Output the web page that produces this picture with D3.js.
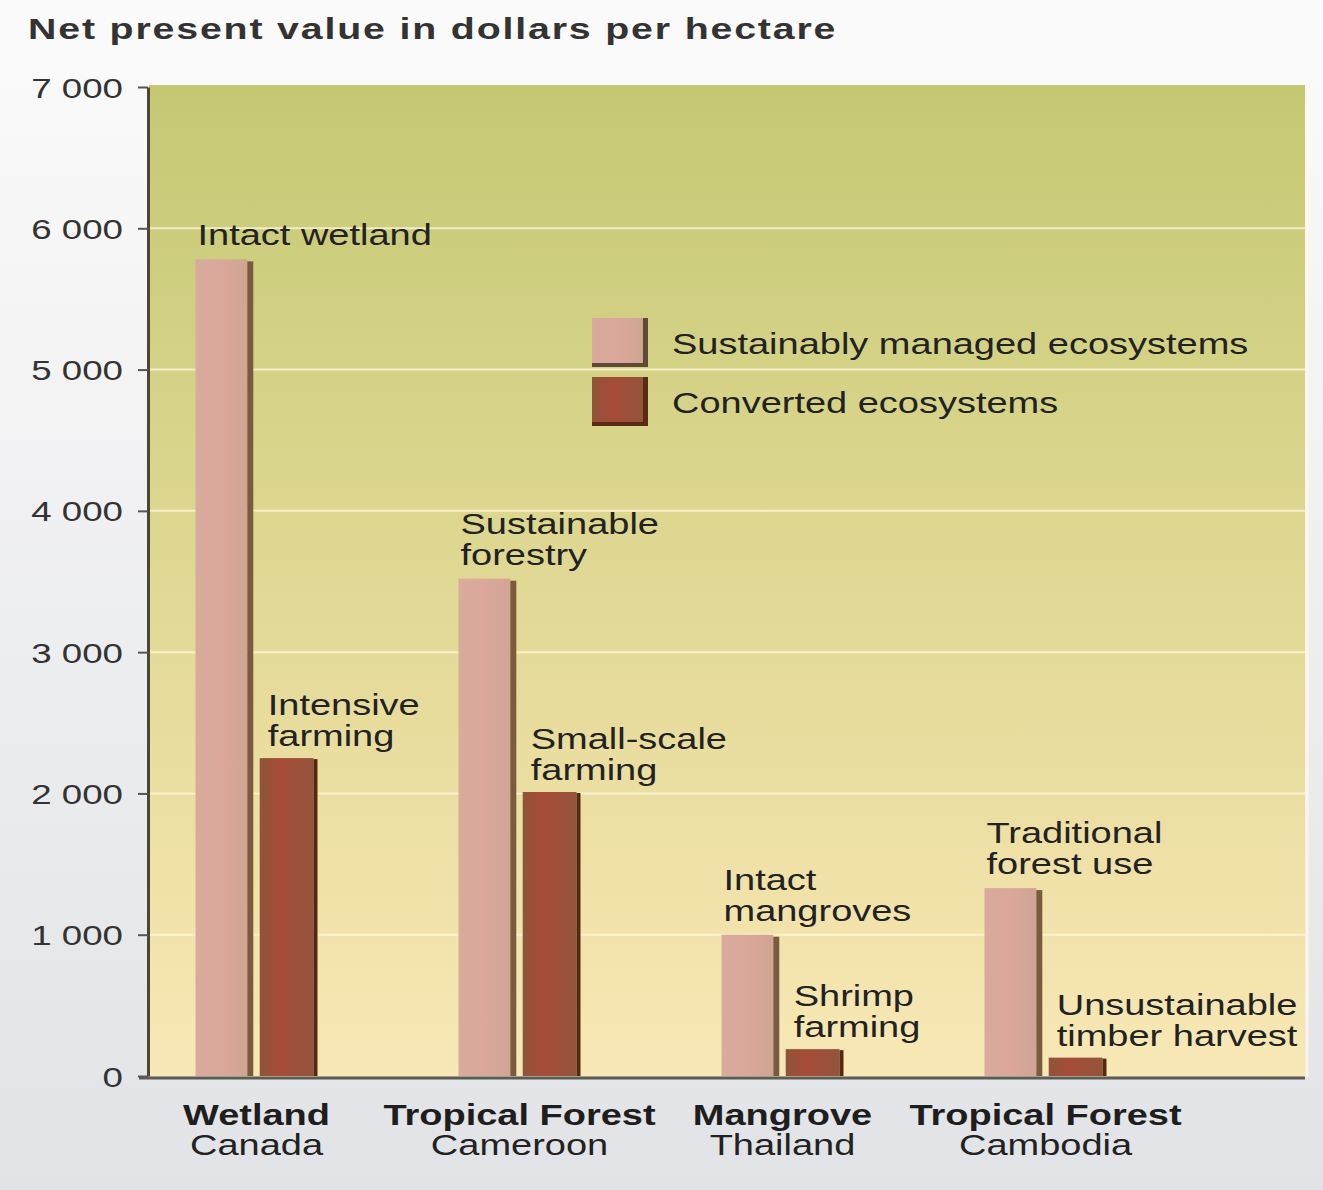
<!DOCTYPE html>
<html>
<head>
<meta charset="utf-8">
<script src="https://cdn.jsdelivr.net/npm/d3@7"></script>
<style>
  body { margin: 0; background: #ebecef; }
  text { font-family: "Liberation Sans", Arial, sans-serif; }
</style>
</head>
<body>
<script>
const width = 1323;
const height = 1190;

// data
const groups = ['Wetland', 'Tropical Forest', 'Mangrove', 'Tropical Forest '];
const countries = ['Canada', 'Cameroon', 'Thailand', 'Cambodia'];
const sustainable = [5780, 3520, 1000, 1330];
const converted = [2250, 2010, 190, 130];
const sustainableLabels = [['Intact wetland'], ['Sustainable', 'forestry'], ['Intact', 'mangroves'], ['Traditional', 'forest use']];
const convertedLabels = [['Intensive', 'farming'], ['Small-scale', 'farming'], ['Shrimp', 'farming'], ['Unsustainable', 'timber harvest']];
const yTicks = [0, 1000, 2000, 3000, 4000, 5000, 6000, 7000];
const yTickLabels = ['0', '1 000', '2 000', '3 000', '4 000', '5 000', '6 000', '7 000'];
const seriesNames = ['Sustainably managed ecosystems', 'Converted ecosystems'];

const SX = 1.31; // the type in the picture is stretched sideways

const svg = d3.select('body').append('svg')
    .attr('width', width)
    .attr('height', height);

const defs = svg.append('defs');

const bgGrad = defs.append('linearGradient').attr('id', 'bg').attr('x1', 0).attr('y1', 0).attr('x2', 0).attr('y2', 1);
bgGrad.append('stop').attr('offset', '0%').attr('stop-color', '#fbfbfb');
bgGrad.append('stop').attr('offset', '100%').attr('stop-color', '#e2e3e6');

const plotGrad = defs.append('linearGradient').attr('id', 'plotbg').attr('x1', 0).attr('y1', 0).attr('x2', 0).attr('y2', 1);
plotGrad.append('stop').attr('offset', '0%').attr('stop-color', '#c4c873');
plotGrad.append('stop').attr('offset', '35%').attr('stop-color', '#d8d48a');
plotGrad.append('stop').attr('offset', '70%').attr('stop-color', '#ebdea1');
plotGrad.append('stop').attr('offset', '100%').attr('stop-color', '#f8e8b6');

const pinkGrad = defs.append('linearGradient').attr('id', 'pink').attr('x1', 0).attr('y1', 0).attr('x2', 1).attr('y2', 0);
pinkGrad.append('stop').attr('offset', '0%').attr('stop-color', '#d8ab9b');
pinkGrad.append('stop').attr('offset', '50%').attr('stop-color', '#dba79b');
pinkGrad.append('stop').attr('offset', '100%').attr('stop-color', '#cfa592');

const redGrad = defs.append('linearGradient').attr('id', 'red').attr('x1', 0).attr('y1', 0).attr('x2', 1).attr('y2', 0);
redGrad.append('stop').attr('offset', '0%').attr('stop-color', '#8f5438');
redGrad.append('stop').attr('offset', '40%').attr('stop-color', '#a64c37');
redGrad.append('stop').attr('offset', '100%').attr('stop-color', '#93543a');

svg.append('rect').attr('width', width).attr('height', height).attr('fill', 'url(#bg)');

// stretched text helper
function label(g, x, y, str, opts = {}) {
    return g.append('text')
        .attr('transform', `translate(${x},${y}) scale(${SX},1)`)
        .attr('text-anchor', opts.anchor || 'start')
        .attr('font-size', opts.size || 29)
        .attr('font-weight', opts.bold ? 'bold' : 'normal')
        .attr('letter-spacing', opts.spacing || 0)
        .attr('fill', opts.color || '#222')
        .text(str);
}

const plot = { left: 149, right: 1305, top: 85, bottom: 1077 };

const y = d3.scaleLinear().domain([0, 7000]).range([1076, 87]);

const x0 = d3.scaleBand().domain(groups).range([125, 1177]);
const x1 = d3.scaleBand().domain(['s', 'c']).range([0, 122]).paddingInner(0.1);

// plot area
svg.append('rect')
    .attr('x', plot.left).attr('y', plot.top)
    .attr('width', plot.right - plot.left).attr('height', plot.bottom - plot.top)
    .attr('fill', 'url(#plotbg)');
svg.append('line')
    .attr('x1', plot.right + 2).attr('x2', plot.right + 2)
    .attr('y1', plot.top).attr('y2', plot.bottom)
    .attr('stroke', '#fffbe8').attr('stroke-width', 3).attr('opacity', 0.8);

// gridlines
svg.append('g')
    .selectAll('line')
    .data(yTicks.filter(d => d > 0 && d < 7000))
    .join('line')
    .attr('x1', plot.left).attr('x2', plot.right)
    .attr('y1', d => y(d)).attr('y2', d => y(d))
    .attr('stroke', '#fff8dc').attr('stroke-width', 2).attr('opacity', 0.75);

// y axis
const yAxis = svg.append('g')
    .attr('transform', `translate(${plot.left - 1},0)`)
    .call(d3.axisLeft(y).tickValues(yTicks).tickFormat('').tickSize(10).tickSizeOuter(0));
yAxis.select('.domain').attr('stroke', '#4e4635').attr('stroke-width', 3);
yAxis.selectAll('.tick line').attr('stroke', '#555').attr('stroke-width', 2);
yAxis.selectAll('.tick').each(function (d, i) {
    label(d3.select(this), -25, 10, yTickLabels[i], { anchor: 'end', size: 28, color: '#333' });
});

// bars
const gGroups = svg.append('g')
    .selectAll('g')
    .data(groups)
    .join('g')
    .attr('transform', d => `translate(${x0(d) + x0.bandwidth() / 2 - 61},0)`);

gGroups.each(function (g, i) {
    const sel = d3.select(this);
    const bw = x1.bandwidth();

    // sustainably managed
    const xs = x1('s');
    sel.append('rect')
        .attr('x', xs).attr('y', y(sustainable[i]))
        .attr('width', bw - 6).attr('height', y(0) - y(sustainable[i]))
        .attr('fill', 'url(#pink)');
    sel.append('rect')
        .attr('x', xs + bw - 6).attr('y', y(sustainable[i]) + 2)
        .attr('width', 6).attr('height', y(0) - y(sustainable[i]) - 2)
        .attr('fill', '#7a5b40');

    // converted
    const xc = x1('c');
    sel.append('rect')
        .attr('x', xc).attr('y', y(converted[i]))
        .attr('width', bw - 4).attr('height', y(0) - y(converted[i]))
        .attr('fill', 'url(#red)');
    sel.append('rect')
        .attr('x', xc + bw - 4).attr('y', y(converted[i]) + 1)
        .attr('width', 4).attr('height', y(0) - y(converted[i]) - 1)
        .attr('fill', '#552810');

    // bar labels, last line sits just above the bar
    const sl = sustainableLabels[i];
    sl.forEach((t, k) => {
        label(sel, xs + 2, y(sustainable[i]) - 14 - (sl.length - 1 - k) * 31, t);
    });
    const cl = convertedLabels[i];
    cl.forEach((t, k) => {
        label(sel, xc + 8, y(converted[i]) - 12 - (cl.length - 1 - k) * 31, t);
    });
});

// x axis line
svg.append('line')
    .attr('x1', plot.left - 10).attr('x2', plot.right)
    .attr('y1', plot.bottom + 1).attr('y2', plot.bottom + 1)
    .attr('stroke', '#5a5a58').attr('stroke-width', 3);

// category labels
groups.forEach((g, i) => {
    const cx = x0(g) + x0.bandwidth() / 2;
    label(svg, cx, 1125, g.trim(), { anchor: 'middle', bold: true, color: '#1e1e1e' });
    label(svg, cx, 1155, countries[i], { anchor: 'middle', color: '#222' });
});

// legend
const legend = svg.append('g').attr('transform', 'translate(592,318)');
const swatchFill = ['url(#pink)', 'url(#red)'];
const swatchShadow = ['#5e4a36', '#5a2a12'];
seriesNames.forEach((name, i) => {
    const row = legend.append('g').attr('transform', `translate(0,${i * 59})`);
    row.append('rect').attr('x', 0).attr('y', 0).attr('width', 56).attr('height', 49).attr('fill', swatchShadow[i]);
    row.append('rect').attr('x', 0).attr('y', 0).attr('width', 51).attr('height', 45).attr('fill', swatchFill[i]);
    label(row, 80, 36, name);
});

// title
label(svg, 28, 39, 'Net present value in dollars per hectare', { bold: true, size: 30, spacing: 1.4, color: '#333' });
</script>
</body>
</html>
